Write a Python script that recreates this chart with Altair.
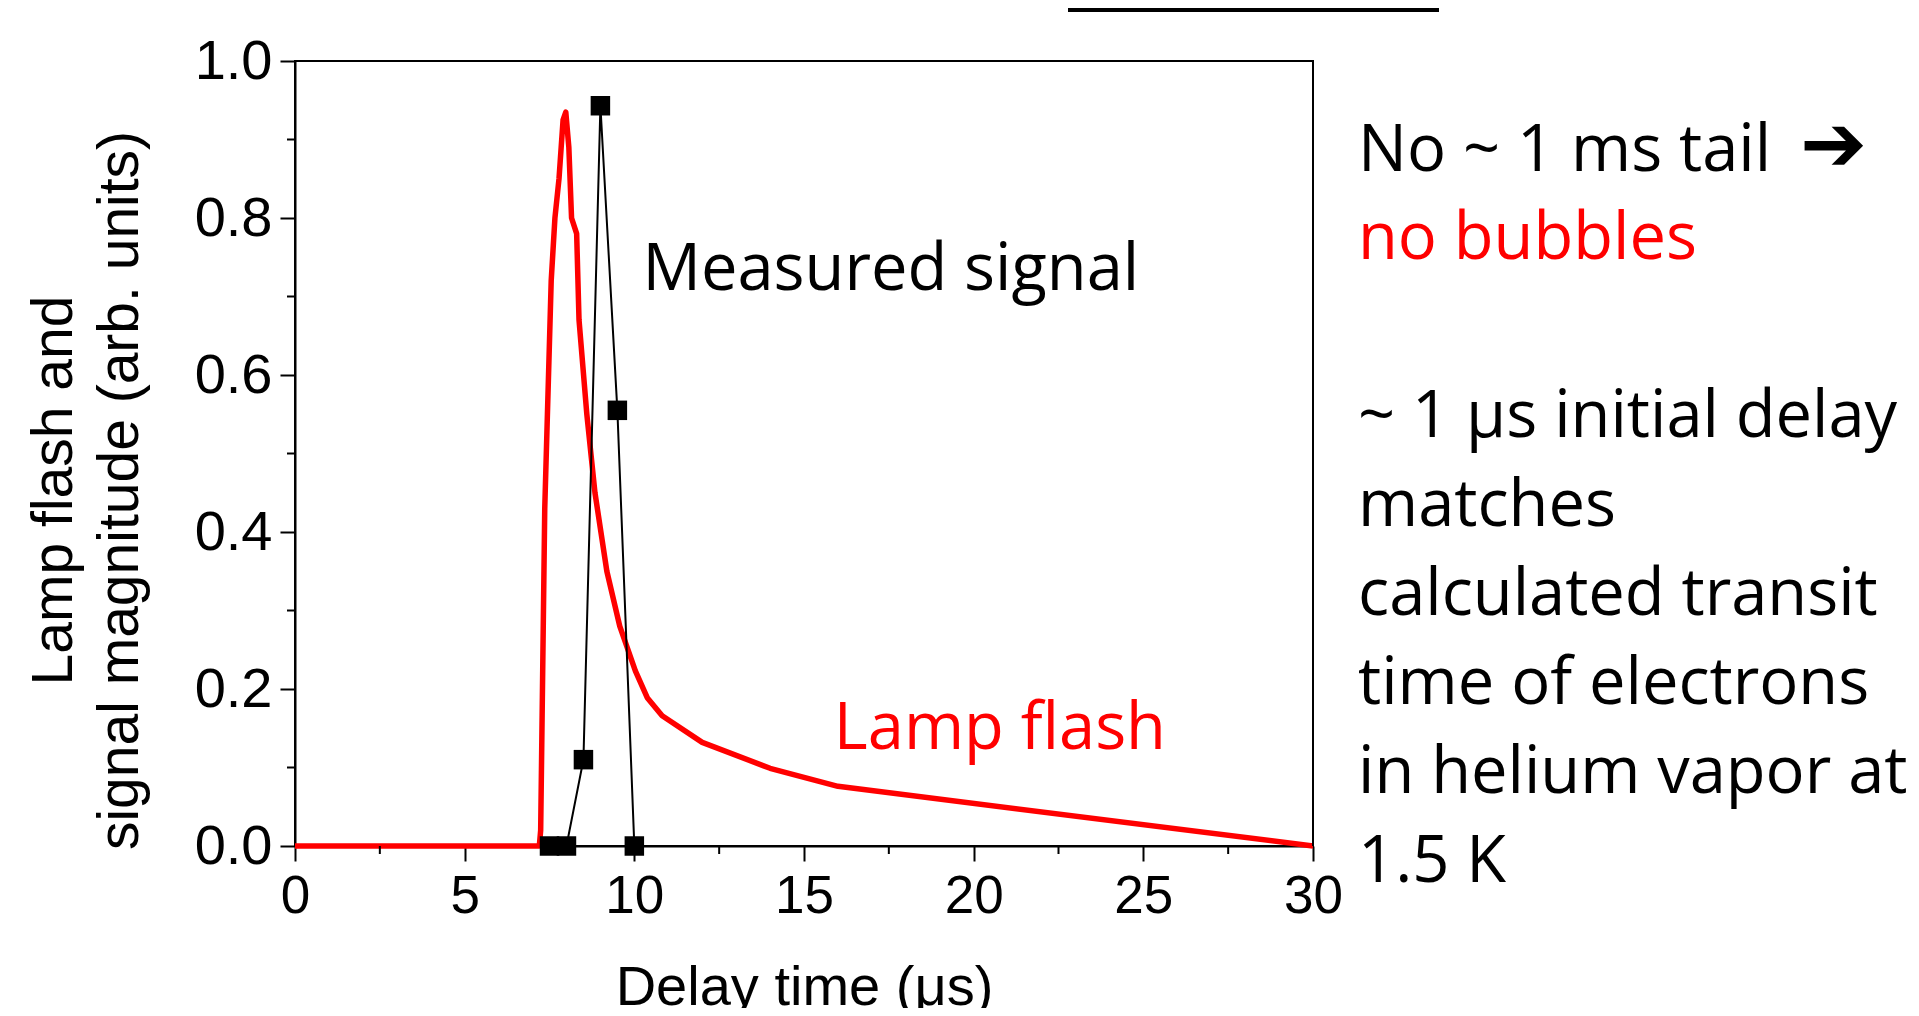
import altair as alt
import pandas as pd

# ---------------- data ----------------
lamp_t = [0.0, 7.2, 7.24, 7.36, 7.55, 7.66, 7.78, 7.9, 7.98, 8.07, 8.15, 8.3, 8.37,
          8.6, 8.84, 9.19, 9.57, 10.03, 10.38, 10.82, 12.0, 14.0, 16.0, 30.0]
lamp_v = [0.0, 0.0, 0.02, 0.43, 0.72, 0.80, 0.85, 0.925, 0.935, 0.89, 0.80, 0.78, 0.67,
          0.55, 0.45, 0.35, 0.28, 0.223, 0.189, 0.166, 0.132, 0.099, 0.076, 0.0]

sig_t = [7.5, 8.0, 8.5, 9.0, 9.5, 10.0]
sig_v = [0.0, 0.0, 0.11, 0.943, 0.555, 0.0]

x_major = [0, 5, 10, 15, 20, 25, 30]
x_minor = [2.5, 7.5, 12.5, 17.5, 22.5, 27.5]
y_major = [0.0, 0.2, 0.4, 0.6, 0.8, 1.0]
y_minor = [0.1, 0.3, 0.5, 0.7, 0.9]

x_title = "Delay time (μs)"
y_title = ["Lamp flash and", "signal magnitude (arb. units)"]

label_measured = "Measured signal"
label_lamp = "Lamp flash"
note_line1 = "No ~ 1 ms tail"
note_arrow = "➔"
note_line2 = "no bubbles"
note_rest = ["~ 1 μs initial delay", "matches", "calculated transit",
             "time of electrons", "in helium vapor at", "1.5 K"]

# ---------------- layout ----------------
W, H = 1018, 785
AXFONT = "Liberation Sans"
ANFONT = "Open Sans"
ANSIZE = 65

lamp = pd.DataFrame({"t": lamp_t, "v": lamp_v})
sig = pd.DataFrame({"t": sig_t, "v": sig_v})
xmin = pd.DataFrame({"t": x_minor})
ymin = pd.DataFrame({"v": y_minor})
ann = pd.DataFrame({"t": [10.24, 15.88], "v": [0.708, 0.124],
                    "label": [label_measured, label_lamp],
                    "col": ["black", "#ff0000"]})
one = pd.DataFrame({"k": [0]})

xscale = alt.Scale(domain=[0, 30], nice=False, zero=False)
yscale = alt.Scale(domain=[0, 1], nice=False, zero=False)

xaxis = alt.Axis(values=x_major, format="d", grid=False, labelFlush=False,
                 labelFont=AXFONT, labelFontSize=53, labelColor="black", labelPadding=9,
                 tickSize=15, tickWidth=2, tickColor="black",
                 domainColor="black", domainWidth=2,
                 title=x_title, titleFont=AXFONT, titleFontSize=56,
                 titleFontWeight="normal", titleColor="black",
                 titleBaseline="alphabetic", titleY=158, titleX=W / 2)
yaxis = alt.Axis(values=y_major, format=".1f", grid=False, labelFlush=False,
                 labelFont=AXFONT, labelFontSize=56, labelColor="black", labelPadding=8,
                 tickSize=15, tickWidth=2, tickColor="black",
                 domainColor="black", domainWidth=2,
                 title=y_title, titleFont=AXFONT, titleFontSize=57,
                 titleFontWeight="normal", titleColor="black",
                 titleAngle=-90, titleAlign="center", titleBaseline="alphabetic",
                 titleX=-224, titleY=429, titleLineHeight=66)


def X(field="t"):
    return alt.X(f"{field}:Q", scale=xscale, axis=xaxis)


def Y(field="v"):
    return alt.Y(f"{field}:Q", scale=yscale, axis=yaxis)


red_line = alt.Chart(lamp).mark_line(color="#ff0000", strokeWidth=5.5,
                                     strokeJoin="round").encode(x=X(), y=Y())
sig_line = alt.Chart(sig).mark_line(color="black", strokeWidth=2).encode(x=X(), y=Y())
sig_pts = alt.Chart(sig).mark_point(shape="square", filled=True, color="black",
                                    size=380, opacity=1).encode(x=X(), y=Y())

x_minor_ticks = alt.Chart(xmin).mark_rule(color="black", strokeWidth=2).encode(
    x=X(), y=alt.value(H), y2=alt.value(H + 8))
y_minor_ticks = alt.Chart(ymin).mark_rule(color="black", strokeWidth=2).encode(
    y=Y(), x=alt.value(0), x2=alt.value(-8))

# frame (top and right)
frame_top = alt.Chart(one).mark_rule(color="black", strokeWidth=2).encode(
    x=alt.value(0), x2=alt.value(W), y=alt.value(0))
frame_right = alt.Chart(one).mark_rule(color="black", strokeWidth=2).encode(
    x=alt.value(W), y=alt.value(0), y2=alt.value(H))

ann_text = alt.Chart(ann).mark_text(font=ANFONT, fontSize=ANSIZE, align="left",
                                    baseline="alphabetic").encode(
    x=X(), y=Y(), text="label:N",
    color=alt.Color("col:N", scale=None))

NX = 1063
note1 = alt.Chart(one).mark_text(font=ANFONT, fontSize=ANSIZE, align="left",
                                 baseline="alphabetic", color="black",
                                 text=note_line1).encode(
    x=alt.value(NX), y=alt.value(110))
arrow = alt.Chart(one).mark_text(font="DejaVu Sans", fontSize=80, fontWeight="bold",
                                 align="left", baseline="middle", color="black",
                                 text=note_arrow).encode(
    x=alt.value(1505), y=alt.value(86))
note2 = alt.Chart(one).mark_text(font=ANFONT, fontSize=ANSIZE, align="left",
                                 baseline="alphabetic", color="#ff0000",
                                 text=note_line2).encode(
    x=alt.value(NX), y=alt.value(198))
note3 = alt.Chart(one).mark_text(font=ANFONT, fontSize=ANSIZE, align="left",
                                 baseline="alphabetic", color="black",
                                 text=note_rest, lineHeight=89).encode(
    x=alt.value(NX), y=alt.value(376))

top_box = alt.Chart(one).mark_rect(color="black").encode(
    x=alt.value(773), x2=alt.value(1144), y=alt.value(-53), y2=alt.value(-49))

chart = alt.layer(
    red_line, sig_line, sig_pts, x_minor_ticks, y_minor_ticks, frame_top, frame_right,
    ann_text, note1, arrow, note2, note3, top_box
).properties(
    width=W, height=H,
    autosize=alt.AutoSizeParams(type="none"),
    padding={"left": 287, "top": 53, "right": 598, "bottom": 162},
    background="white",
).configure_view(stroke="black", strokeWidth=2)

chart.save("out.html", embed_options={"renderer": "svg", "actions": False})
